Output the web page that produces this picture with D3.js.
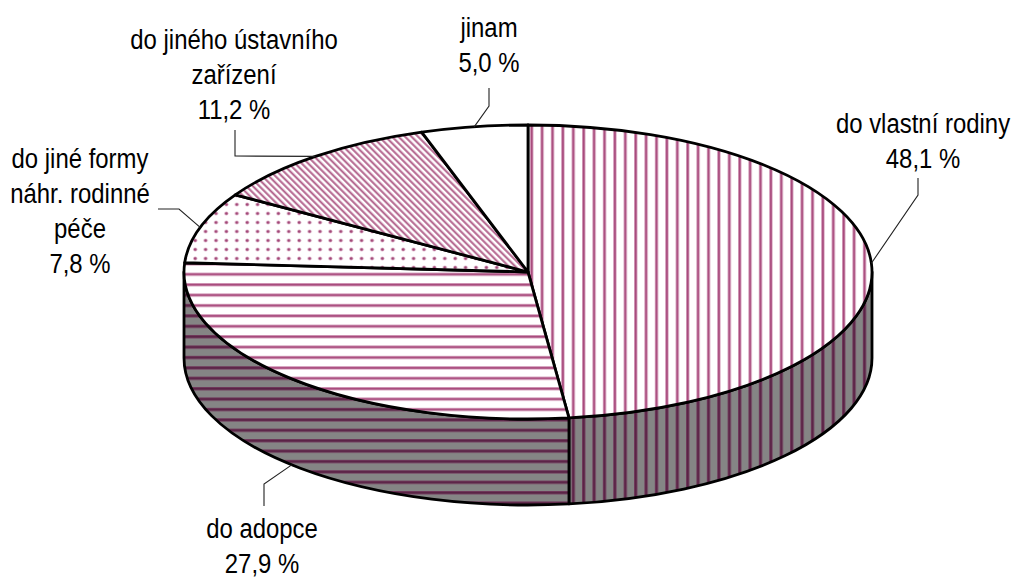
<!DOCTYPE html>
<html>
<head>
<meta charset="utf-8">
<script src="https://cdn.jsdelivr.net/npm/d3@7"></script>
<style>
  html, body { margin: 0; padding: 0; background: #fff; }
  svg { display: block; }
  text { font-family: "Liberation Sans", Arial, sans-serif; font-size: 28px; fill: #000; }
</style>
</head>
<body>
<svg id="chart" width="1016" height="582"></svg>
<script>
// Umístění dětí – podíly podle směru odchodu
const categories = ["do vlastní rodiny", "do adopce", "do jiné formy náhr. rodinné péče", "do jiného ústavního zařízení", "jinam"];
const values = [48.1, 27.9, 7.8, 11.2, 5.0];
const labelLines = [
  ["do vlastní rodiny"],
  ["do adopce"],
  ["do jiné formy", "náhr. rodinné", "péče"],
  ["do jiného ústavního", "zařízení"],
  ["jinam"]
];
const fills = ["vstripe", "hstripe", "dots", "diag", "plain"];

// Geometry of the tilted disc
const cx = 528, cy = 272, rx = 344, ry = 147, depth = 86;
const lineH = 35;

// Label placement: anchor of the text block and the bends of each leader line
const labelPos = [
  { x: 923, y: 133, bends: [[918, 195], [918, 178]] },
  { x: 262, y: 538, bends: [[264, 484], [264, 506]] },
  { x: 80,  y: 168, bends: [[179, 209], [158, 209]] },
  { x: 234, y: 49,  bends: [[235, 156], [235, 130]] },
  { x: 489, y: 37,  bends: [[489, 106], [489, 88]] }
];

const fmt = v => d3.format(".1f")(v).replace(".", ",") + " %";

const svg = d3.select("#chart");
const defs = svg.append("defs");

const P = 10.4;
const pink = "#a84a7c", pinkLight = "#d7a3bf";
const sideGray = "#858585", sideLine = "#5a2245", sideLineLight = "#733d5f";

function stripePattern(id, vertical, bg, light, dark) {
  const p = defs.append("pattern").attr("id", id).attr("patternUnits", "userSpaceOnUse")
    .attr("width", P).attr("height", P)
    .attr("x", vertical ? 530 : 0).attr("y", vertical ? 0 : 127);
  p.append("rect").attr("width", P).attr("height", P).attr("fill", bg);
  if (vertical) {
    p.append("rect").attr("x", 0).attr("width", 3.4).attr("height", P).attr("fill", light);
    p.append("rect").attr("x", 0.8).attr("width", 1.8).attr("height", P).attr("fill", dark);
  } else {
    p.append("rect").attr("y", 0).attr("height", 3.4).attr("width", P).attr("fill", light);
    p.append("rect").attr("y", 0.8).attr("height", 1.8).attr("width", P).attr("fill", dark);
  }
}
stripePattern("vstripe", true, "#fff", pinkLight, pink);
stripePattern("hstripe", false, "#fff", pinkLight, pink);
stripePattern("vstripe-side", true, sideGray, sideLineLight, sideLine);
stripePattern("hstripe-side", false, sideGray, sideLineLight, sideLine);

// dotted fill
{
  const p = defs.append("pattern").attr("id", "dots").attr("patternUnits", "userSpaceOnUse")
    .attr("width", 10.4).attr("height", 9).attr("x", 3).attr("y", 2);
  p.append("rect").attr("width", 10.4).attr("height", 9).attr("fill", "#fff");
  p.append("circle").attr("cx", 5).attr("cy", 4.5).attr("r", 2.1).attr("fill", "#dcb0c8");
  p.append("circle").attr("cx", 5).attr("cy", 4.5).attr("r", 1.3).attr("fill", "#a24878");
}
// diagonal hatch, running from upper left to lower right
{
  const s = 4.6;
  const p = defs.append("pattern").attr("id", "diag").attr("patternUnits", "userSpaceOnUse")
    .attr("width", s).attr("height", s).attr("patternTransform", "rotate(-45)");
  p.append("rect").attr("width", s).attr("height", s).attr("fill", "#fff");
  p.append("rect").attr("width", 2.4).attr("height", s).attr("fill", "#cf97b5");
  p.append("rect").attr("x", 0.6).attr("width", 1.2).attr("height", s).attr("fill", "#b06089");
}
defs.append("pattern").attr("id", "plain").attr("patternUnits", "userSpaceOnUse")
  .attr("width", 4).attr("height", 4)
  .append("rect").attr("width", 4).attr("height", 4).attr("fill", "#fff");

// angles measured clockwise from 12 o'clock
const pie = d3.pie().sort(null).value(d => d).startAngle(0).endAngle(2 * Math.PI);
const arcs = pie(values);

const pt = (a, dy = 0) => [cx + rx * Math.sin(a), cy - ry * Math.cos(a) + dy];

function topPath(d) {
  const [x0, y0] = pt(d.startAngle);
  const [x1, y1] = pt(d.endAngle);
  const large = (d.endAngle - d.startAngle) > Math.PI ? 1 : 0;
  return `M${cx},${cy}L${x0},${y0}A${rx},${ry} 0 ${large} 1 ${x1},${y1}Z`;
}

function sidePath(a0, a1) {
  const [x0, y0] = pt(a0);
  const [x1, y1] = pt(a1);
  return `M${x0},${y0}A${rx},${ry} 0 0 1 ${x1},${y1}L${x1},${y1 + depth}` +
         `A${rx},${ry} 0 0 0 ${x0},${y0 + depth}Z`;
}

// front wall: visible between 3 o'clock and 9 o'clock
const frontA = Math.PI / 2, frontB = 3 * Math.PI / 2;
const sideG = svg.append("g");
arcs.forEach((d, i) => {
  const a0 = Math.max(d.startAngle, frontA), a1 = Math.min(d.endAngle, frontB);
  if (a1 <= a0) return;
  const fillId = fills[i] === "vstripe" ? "vstripe-side" : fills[i] === "hstripe" ? "hstripe-side" : fills[i];
  sideG.append("path")
    .attr("d", sidePath(a0, a1))
    .attr("fill", `url(#${fillId})`)
    .attr("stroke", "#000").attr("stroke-width", 2.8).attr("stroke-linejoin", "round");
});

const topG = svg.append("g");
topG.selectAll("path").data(arcs).join("path")
  .attr("d", topPath)
  .attr("fill", (d, i) => `url(#${fills[i]})`)
  .attr("stroke", "#000").attr("stroke-width", 2.8).attr("stroke-linejoin", "round");

// leader lines and labels
const leadG = svg.append("g");
const labG = svg.append("g");
arcs.forEach((d, i) => {
  const mid = (d.startAngle + d.endAngle) / 2;
  const front = mid > frontA && mid < frontB && Math.cos(mid) < -0.5;
  const start = pt(mid, front ? depth : 0);
  const pts = [start, ...labelPos[i].bends];
  leadG.append("path")
    .attr("d", d3.line()(pts))
    .attr("fill", "none").attr("stroke", "#222").attr("stroke-width", 1.1);

  const lines = [...labelLines[i], fmt(values[i])];
  const g = labG.append("g")
    .attr("transform", `translate(${labelPos[i].x},${labelPos[i].y}) scale(0.855,1)`);
  g.selectAll("text").data(lines).join("text")
    .attr("x", 0).attr("y", (t, k) => k * lineH)
    .attr("text-anchor", "middle")
    .text(t => t);
});
</script>
</body>
</html>
